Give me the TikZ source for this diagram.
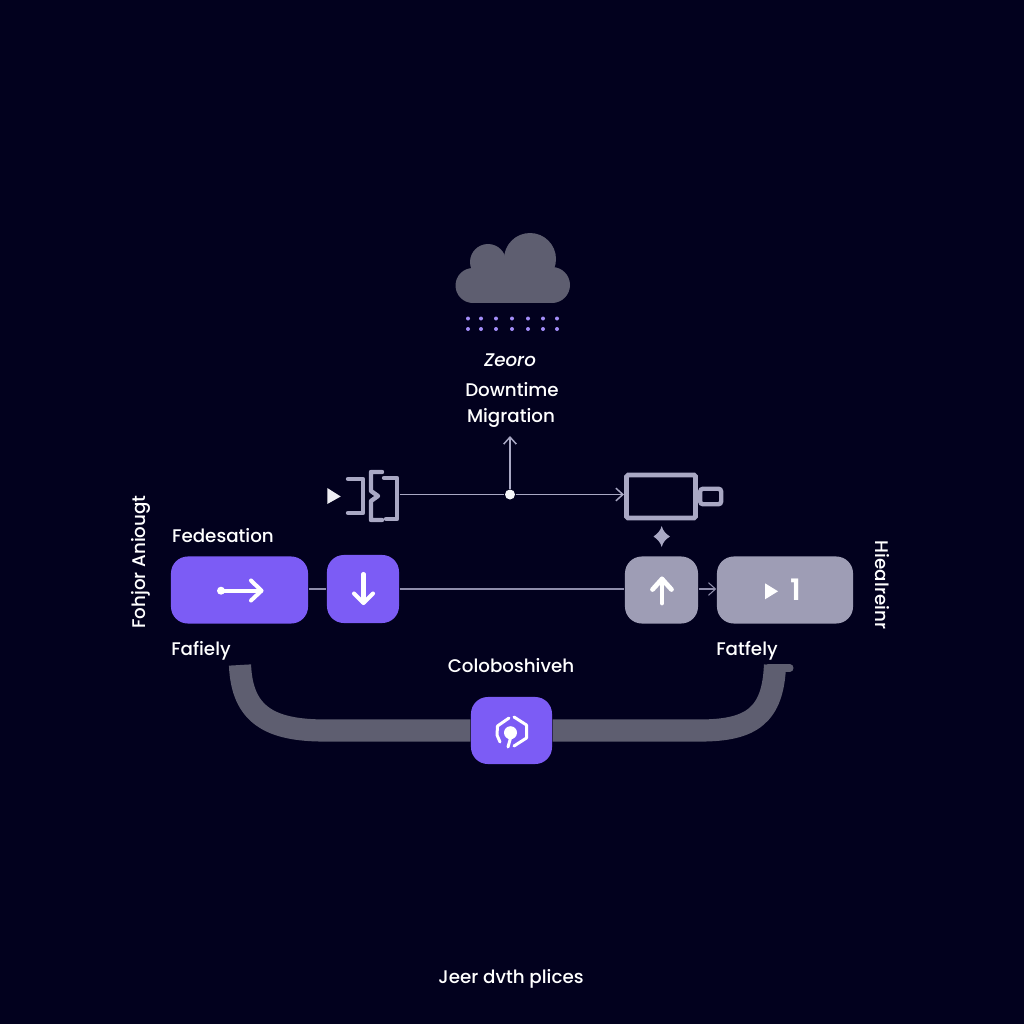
\documentclass[tikz,border=0pt]{standalone}
\usepackage{fontspec}
\setmainfont{Poppins}[UprightFont=* Medium, ItalicFont=* Medium Italic, BoldFont=* SemiBold]
\usetikzlibrary{arrows.meta}
\definecolor{bgnavy}{HTML}{02011E}
\definecolor{violet}{HTML}{7C5CF5}
\definecolor{steel}{HTML}{9E9DB5}
\definecolor{wire}{HTML}{8F8EAB}
\definecolor{icongrey}{HTML}{A9A8C4}
\definecolor{slate}{HTML}{5E5E70}
\tikzset{
  tile/.style={rectangle, rounded corners=4.8pt, inner sep=0pt, minimum height=0.67cm},
  label/.style={text=white, inner sep=0pt, font=\fontsize{5.2}{6}\selectfont},
  wireline/.style={draw=wire, line width=0.3pt, >={Straight Barb[length=2pt,width=3.6pt]}},
  topwire/.style={wireline, draw=icongrey, line width=0.42pt},
  glyph/.style={draw=white, line width=1.15pt, line cap=round, line join=round},
  bracket/.style={draw=icongrey, line width=1.25pt, line cap=round, line join=round},
}
\begin{document}
\begin{tikzpicture}[x=0.01cm, y=-0.01cm]
      \fill [bgnavy] (0, 0) rectangle (1024, 1024);
      \useasboundingbox (0, 0) rectangle (1024, 1024);

      \fill [slate] (488, 262) circle [radius=18];
      \fill [slate] (530, 259) circle [radius=26];
      \fill [slate] (473, 285.5) circle [radius=17.5];
      \fill [slate] (552, 285) circle [radius=18];
      \fill [slate] (473, 264) rectangle (552, 303);
      \foreach \dotx in {468, 481, 496, 512, 528, 543, 557} {
        \fill [violet!70!white] (\dotx, 318.5) circle [radius=2];
        \fill [violet!70!white] (\dotx, 329) circle [radius=2];
      }

      \node [label] (zeoro) at (510, 360) {\itshape Zeoro};
      \node [label] (downtime) at (512, 390) {Downtime};
      \node [label] (migration) at (511, 417.5) {Migration};

      \node [label] (fedlabel) at (223, 536) {Fedesation};
      \node [label] (leftlabel) at (201, 651) {Fafiely};
      \node [label] (rightlabel) at (747, 651) {Fatfely};
      \node [label] (collablabel) at (511, 666) {Coloboshiveh};
      \node [label] (footer) at (511, 979) {Jeer dvth plices};
      \node [label, rotate=90] (leftside) at (141, 562) {Fohjor Aniougt};
      \node [label, rotate=-90] (rightside) at (882, 585) {Hiealreinr};

      \node [tile, fill=violet, minimum width=1.37cm] (fed) at (239.5, 590) {};
      \node [tile, fill=violet, minimum width=0.72cm, minimum height=0.68cm] (down) at (363, 589) {};
      \node [tile, fill=steel, minimum width=0.73cm] (up) at (661.5, 590) {};
      \node [tile, fill=steel, minimum width=1.36cm] (play) at (785, 590) {};
      \node [tile, fill=violet, minimum width=0.81cm] (collab) at (511.5, 730.5) {};

      \node [draw=icongrey, line width=1.4pt, rounded corners=0.5pt, inner sep=0pt,
             minimum width=0.69cm, minimum height=0.43cm] (batt) at (661, 496.5) {};
      \node [draw=icongrey, line width=1.25pt, rounded corners=0.8pt, inner sep=0pt, anchor=west,
             minimum width=0.21cm, minimum height=0.155cm] (nub) at (batt.east) {};
      \node [circle, fill=white!90!icongrey, inner sep=0pt, minimum size=0.1cm] (junction) at (510, 494.5) {};
      \node [inner sep=0pt, minimum width=0.52cm, minimum height=0.48cm] (brackets) at (373, 494.5) {};
      \coordinate (migrationtip) at (510, 436);
      \coordinate (barleft) at (240, 665);
      \coordinate (barright) at (775, 665);

      \draw [topwire] (brackets.east) -- (junction);
      \draw [topwire, ->] (junction) -- (batt.west |- junction);
      \draw [topwire, ->] (junction) -- (migrationtip);
      \draw [wireline] (fed.east |- down.west) -- (down.west);
      \draw [wireline] (down.east) -- (up.west |- down.east);
      \draw [wireline, ->] (up.east |- down.east) -- (play.west |- down.east);

      \draw [slate, line width=6.3pt] (barleft) .. controls (242, 715) and (270, 730.5) .. (325, 730.5) -- (collab.west);
      \draw [slate, line width=6.3pt] (collab.east) -- (700, 730.5) .. controls (752, 730.5) and (773, 715) .. (barright);
      \draw [slate, line width=2pt, line cap=round] (768, 668) -- (790, 668);

      \fill [white!80!icongrey] (327.3, 488) -- (340.7, 496.5) -- (327.3, 504) -- cycle;
      \draw [bracket] (348, 479) -- (363, 479) -- (363, 513) -- (348, 513);
      \draw [bracket] (382, 472) -- (371, 472) -- (371, 491) -- (378, 496) -- (371, 501) -- (371, 520) -- (382, 520);
      \draw [bracket] (384, 478) -- (397, 478) -- (397, 519) -- (386, 519);

      \fill [icongrey] (661.7, 526) .. controls (663, 531) and (666, 534) .. (670, 536.5)
        .. controls (666, 539) and (663, 542) .. (661.7, 547)
        .. controls (660.5, 542) and (657, 539) .. (653.5, 536.5)
        .. controls (657, 534) and (660.5, 531) .. (661.7, 526) -- cycle;

      \fill [white] (221, 590.7) circle [radius=4];
      \draw [glyph] (221, 590.7) -- (261, 590.7);
      \draw [glyph] (251, 580.5) -- (261.5, 590.7) -- (251, 600.5);

      \draw [glyph] (363.5, 574) -- (363.5, 602.5);
      \draw [glyph] (354, 593.5) -- (363.5, 603) -- (373, 593.5);

      \draw [glyph, line width=1.35pt] (662, 603) -- (662, 579);
      \draw [glyph, line width=1.35pt] (652.5, 589.5) -- (662, 579) -- (671.5, 589.5);

      \fill [white] (765, 583.3) -- (778, 591.3) -- (765, 599.3) -- cycle;
      \node [inner sep=0pt, text=white, font=\fontsize{8.4}{9}\selectfont\bfseries] (playnum) at (796, 590) {1};

      \fill [white] (510.5, 732.7) circle [radius=6.5];
      \draw [glyph, line width=0.85pt] (509, 718) -- (497.5, 726) -- (497, 735) -- (500, 742);
      \draw [glyph, line width=0.85pt] (514, 717) -- (526.5, 725) -- (526.5, 738) -- (514, 746);
      \draw [glyph, line width=0.85pt] (510.5, 738) -- (508, 747);
    \end{tikzpicture}
\end{document}
